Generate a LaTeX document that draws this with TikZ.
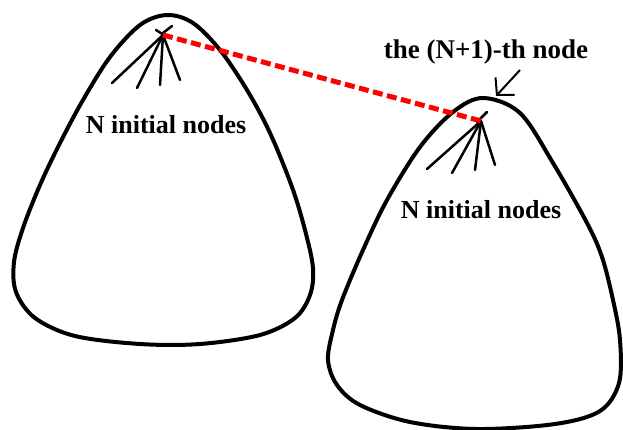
\documentclass[tikz,border=0pt]{standalone}
\usepackage{fontspec}
\setmainfont{Liberation Serif}
\usetikzlibrary{arrows.meta,positioning}

\tikzset{
  blob/.style={line width=4pt, line join=round},
  spoke/.style={line width=2.5pt, line cap=round},
  link/.style={red, line width=5pt, dash pattern=on 10pt off 4.5pt},
}

\begin{document}
\begin{tikzpicture}[x=1pt,y=-1pt,font=\bfseries\fontsize{26}{30}\selectfont]
    \useasboundingbox (0,0) rectangle (623,430);
    % the two groups
    \draw[blob] plot[smooth cycle, tension=0.55] coordinates {(167,15) (193,23) (220,50) (247,90) (270,133) (292,187) (305,230) (313,268) (310,295) (295,318) (260,335) (200,344) (140,344) (75,336) (35,318) (16,292) (14,262) (23,228) (40,185) (60,143) (83,100) (110,57) (140,25)};
    \draw[blob] plot[smooth cycle, tension=0.55] coordinates {(483,98) (520,113) (553,163) (587,223) (602,257) (613,300) (620,340) (619,383) (600,411) (555,424) (477,429) (410,422) (360,405) (337,385) (328,360) (333,330) (342,300) (363,250) (387,200) (420,147) (453,112)};
    \coordinate (topL) at (163,35);
    \coordinate (topR) at (481,121);
    \foreach \x/\y in {112/83,137/88,160/85,180/80} \draw[spoke] (topL) -- (\x,\y);
    \foreach \x/\y in {427/169,452/173,475/170,495/165} \draw[spoke] (topR) -- (\x,\y);
    \draw[spoke] (156,30) -- (167,37);
    \draw[spoke] (172,26) -- (163,33);
    \draw[spoke] (487,112) -- (477,122);
    \node (groupL) at (166,125) {N initial nodes};
    \node (groupR) at (481,210) {N initial nodes};
    \node (newnode) at (486,52) {\fontsize{27}{30}\selectfont the (N+1)-th node};
    \coordinate (pointer) at (520,70);
    \coordinate (tipR) at (496,96);
    \draw[line width=2pt, -{Straight Barb[length=12pt,width=26pt]}] (pointer) -- (tipR);
    \draw[link] (topL) -- (topR);
\end{tikzpicture}
\end{document}
